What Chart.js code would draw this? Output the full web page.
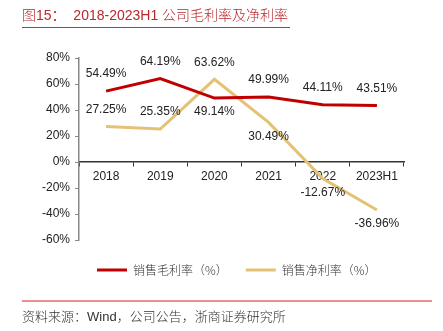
<!DOCTYPE html>
<html>
<head>
<meta charset="utf-8">
<script src="https://cdn.jsdelivr.net/npm/chart.js@4.4.0/dist/chart.umd.min.js"></script>
<style>
  html, body { margin: 0; padding: 0; background: #fff; }
  #wrap { position: relative; width: 443px; height: 331px; overflow: hidden; }
  #chart { position: absolute; left: 0; top: 0; }
  .title {
    position: absolute; left: 22px; top: 4px;
    font: 14px "Liberation Sans", "Noto Sans CJK SC", sans-serif;
    color: #b8282c; white-space: nowrap;
  }
  .title .cn { font-family: "Noto Sans CJK SC", sans-serif; font-weight: 300; }
  .rule-top { position: absolute; left: 22px; top: 27px; width: 268px; height: 1px; background: #c0392b; }
  .rule-bottom { position: absolute; left: 22px; top: 300px; width: 410px; height: 2px; background: #ec8f8f; }
  .source {
    position: absolute; left: 22px; top: 306px;
    font: 13px "Noto Sans CJK SC", "Liberation Sans", sans-serif; font-weight: 300;
    color: #333; white-space: nowrap;
  }
  .source .en { font-family: "Liberation Sans", sans-serif; font-weight: 400; }
</style>
</head>
<body>
<div id="wrap">
  <canvas id="chart" width="443" height="331"></canvas>
  <div class="title"><span class="cn">图</span>15：&nbsp; 2018-2023H1 <span class="cn">公司毛利率及净利率</span></div>
  <div class="rule-top"></div>
  <div class="rule-bottom"></div>
  <div class="source">资料来源：<span class="en">Wind</span>，公司公告，浙商证券研究所</div>
</div>
<script>
const years = ['2018', '2019', '2020', '2021', '2022', '2023H1'];
const grossMargin = [54.49, 64.19, 49.14, 49.99, 44.11, 43.51];
const netMargin = [27.25, 25.35, 63.62, 30.49, -12.67, -36.96];
const yTicks = [-60, -40, -20, 0, 20, 40, 60, 80];

// where each value label sits relative to its point
const grossLabelSide = ['up', 'up', 'down', 'up', 'up', 'up'];
const netLabelSide = ['up', 'up', 'up', 'down', 'down', 'down'];

const RED = '#c00000';
const TAN = '#e3c274';
const NUM_FONT = '"Liberation Sans", Arial, sans-serif';

const valueLabels = {
    id: 'valueLabels',
    afterDatasetsDraw(chart) {
        const ctx = chart.ctx;
        ctx.save();
        ctx.font = '12px ' + NUM_FONT;
        ctx.fillStyle = '#222';
        ctx.textAlign = 'center';
        ctx.textBaseline = 'middle';
        chart.data.datasets.forEach((ds, i) => {
            const meta = chart.getDatasetMeta(i);
            meta.data.forEach((pt, j) => {
                const dy = ds.labelSide[j] === 'up' ? -17 : 14;
                ctx.fillText(ds.data[j].toFixed(2) + '%', pt.x, pt.y + dy);
            });
        });
        ctx.restore();
    }
};

new Chart(document.getElementById('chart'), {
    type: 'line',
    data: {
        labels: years,
        datasets: [
            {
                label: '销售毛利率（%）',
                data: grossMargin,
                labelSide: grossLabelSide,
                borderColor: RED,
                backgroundColor: RED,
                borderWidth: 3,
                pointRadius: 0,
                tension: 0,
            },
            {
                label: '销售净利率（%）',
                data: netMargin,
                labelSide: netLabelSide,
                borderColor: TAN,
                backgroundColor: TAN,
                borderWidth: 3,
                pointRadius: 0,
                tension: 0,
            }
        ]
    },
    options: {
        responsive: false,
        animation: false,
        layout: {
            padding: { left: 0, right: 39, top: 58, bottom: 45 }
        },
        plugins: {
            tooltip: { enabled: false },
            legend: {
                position: 'bottom',
                align: 'start',
                fullSize: false,
                // empty title only adds a little space above the row
                title: { display: true, text: '', padding: 0, font: { size: 5 } },
                labels: {
                    usePointStyle: true,
                    pointStyle: 'line',
                    pointStyleWidth: 30,
                    padding: 18,
                    color: '#333',
                    font: { family: '"Noto Sans CJK SC", sans-serif', size: 12, weight: 300 }
                }
            }
        },
        scales: {
            x: {
                position: { y: 0 },
                offset: true,
                grid: {
                    offset: true,
                    drawOnChartArea: false,
                    tickLength: 4,
                    color: '#333'
                },
                border: { color: '#333', width: 1.5 },
                ticks: {
                    color: '#222',
                    padding: 3,
                    font: { family: NUM_FONT, size: 12 }
                },
                afterFit(scale) { scale.height = 0; }
            },
            y: {
                min: -60,
                max: 80,
                afterBuildTicks(scale) {
                    scale.ticks = yTicks.map(v => ({ value: v }));
                },
                grid: {
                    drawOnChartArea: false,
                    tickLength: 4,
                    color: '#888'
                },
                border: { color: '#888', width: 1.5 },
                ticks: {
                    color: '#222',
                    padding: 5,
                    font: { family: NUM_FONT, size: 12 },
                    callback: v => v + '%'
                },
                afterFit(scale) { scale.width = 79; }
            }
        }
    },
    plugins: [valueLabels]
});
</script>
</body>
</html>
